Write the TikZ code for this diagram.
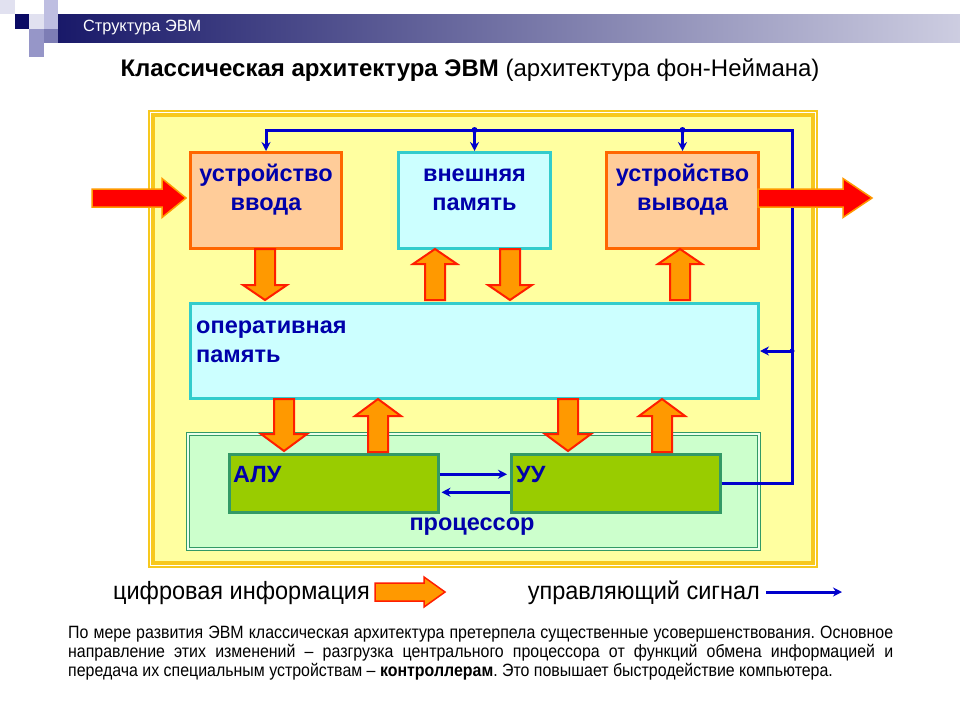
\documentclass[tikz,border=0pt]{standalone}
\usepackage{fontspec}
\setmainfont{Liberation Sans}
\newfontfamily\narrowfont[FakeStretch=0.895]{Liberation Sans}
\newfontfamily\legfont[FakeStretch=0.94]{Liberation Sans}
\usetikzlibrary{arrows.meta,calc}
\definecolor{gold}{RGB}{247,200,30}
\definecolor{ylw}{RGB}{255,255,160}
\definecolor{peach}{RGB}{255,204,153}
\definecolor{orng}{RGB}{255,102,0}
\definecolor{cyanf}{RGB}{204,255,255}
\definecolor{teal2}{RGB}{51,204,204}
\definecolor{procf}{RGB}{204,255,204}
\definecolor{grn}{RGB}{51,153,102}
\definecolor{lime}{RGB}{153,204,0}
\definecolor{ctrlblue}{RGB}{0,0,204}
\definecolor{txtblue}{RGB}{0,0,170}
\definecolor{arrfill}{RGB}{255,153,0}
\definecolor{arrline}{RGB}{255,30,0}
\definecolor{navy}{RGB}{25,25,105}
\definecolor{lav}{RGB}{205,205,225}
\definecolor{sqA}{RGB}{225,225,240}
\definecolor{sqB}{RGB}{10,10,100}
\definecolor{sqC}{RGB}{190,190,225}
\definecolor{sqD}{RGB}{150,150,200}
% vertical block arrow: x, y-from, y-to, head length, head half-width
\newcommand{\vfat}[5]{%
  \pgfmathsetmacro{\hy}{#3-#4*sign(#3-#2)}%
  \draw[fat] ({#1-10},#2) -- ({#1+10},#2) -- ({#1+10},\hy) -- ({#1+#5},\hy) -- (#1,#3) -- ({#1-#5},\hy) -- ({#1-10},\hy) -- cycle;}
% horizontal block arrow: style, y, x-from, x-to, shaft half, head half, head length
\newcommand{\hfat}[7]{%
  \draw[#1] (#3,{#2-#5}) -- ({#4-#7},{#2-#5}) -- ({#4-#7},{#2-#6}) -- (#4,#2) -- ({#4-#7},{#2+#6}) -- ({#4-#7},{#2+#5}) -- (#3,{#2+#5}) -- cycle;}
\tikzset{
  fat/.style={fill=arrfill, draw=arrline, line width=2, line join=miter},
  bigred/.style={fill=red, draw=arrfill, line width=1.5, line join=miter},
  legfat/.style={fill=arrfill, draw=arrline, line width=1.5, line join=miter},
  peachbox/.style={rectangle, fill=peach, draw=orng, line width=3, inner sep=0, anchor=north west},
  cyanbox/.style={rectangle, fill=cyanf, draw=teal2, line width=3, inner sep=0, anchor=north west},
  limebox/.style={rectangle, fill=lime, draw=grn, line width=2.5, inner sep=0, anchor=north west},
  boxtext/.style={text=txtblue, font=\fontsize{23.5}{29}\selectfont\bfseries, align=center, inner sep=0},
  legtext/.style={anchor=east, font=\legfont\fontsize{25}{29}\selectfont, inner sep=0},
  ctrl/.style={draw=ctrlblue, line width=3},
  ctrlarr/.style={ctrl, -{Stealth[length=9,width=9]}},
  dot/.style={circle, fill=ctrlblue, inner sep=0, minimum size=6},
}
\begin{document}
\frenchspacing
\begin{tikzpicture}[x=1pt,y=-1pt]
\useasboundingbox (0,0) rectangle (960,720);
\fill[white] (0,0) rectangle (960,720);
% header
\shade[left color=navy, right color=lav] (58,14) rectangle (960,42.5);
\fill[sqA] (0,0) rectangle (14.5,14);
\fill[sqC] (43.5,0) rectangle (58,14);
\fill[sqB] (14.5,14) rectangle (29,28.5);
\fill[sqA] (29,14) rectangle (43.5,28.5);
\fill[sqC] (43.5,14) rectangle (58,28.5);
\fill[sqD] (29,28.5) rectangle (43.5,42.5);
\fill[sqD!80!navy] (43.5,28.5) rectangle (58,42.5);
\fill[sqD] (29,42.5) rectangle (43.5,57);
\node[anchor=west, text=white, font=\fontsize{16.3}{19}\selectfont, inner sep=0] (hdr) at (83,28) {Структура ЭВМ};
% title
\node[font=\fontsize{24}{28}\selectfont, inner sep=0] (title) at (470,70.5) {\textbf{Классическая архитектура ЭВМ} (архитектура фон-Неймана)};
% yellow frame
\draw[gold, line width=1.5] (149,111) rectangle (817,567);
\draw[fill=ylw, draw=gold, line width=4] (153,115) rectangle (813,563);
% boxes
\node[peachbox, minimum width=151, minimum height=96] (vvod) at (189,151) {};
\node[cyanbox, minimum width=152, minimum height=96] (vnesh) at (397,151) {};
\node[peachbox, minimum width=152, minimum height=96] (vyvod) at (605,151) {};
\node[cyanbox, minimum width=568, minimum height=95] (op) at (189,302) {};
\draw[fill=procf, draw=grn, line width=1.6, double=white!60!procf, double distance=1.6] (188,434) rectangle (759,549);
\node[limebox, minimum width=209, minimum height=58] (alu) at (228,453) {};
\node[limebox, minimum width=209, minimum height=58] (uu) at (510,453) {};
% texts
\node[boxtext] (vvodt) at (vvod.center |- 0,190) {устройство\\ввода};
\node[boxtext] (vnesht) at (vnesh.center |- 0,190) {внешняя\\память};
\node[boxtext] (vyvodt) at (vyvod.center |- 0,190) {устройство\\вывода};
\node[boxtext, align=left, anchor=west] (opt) at (196,341.5) {оперативная\\память};
\node[boxtext, anchor=west] (alut) at (233,475) {АЛУ};
\node[boxtext, anchor=west] (uut) at (516,475) {УУ};
\node[boxtext] (proct) at (472,527) {процессор};
% control lines
\coordinate (bus) at (792,130);
\draw[ctrl, line join=miter] (uu.east) -- (uu.east -| bus) -- (bus) -- (bus -| vvod.north) -- ++(0,3);
\draw[ctrlarr] (bus -| vvod.north) -- (vvod.north);
\draw[ctrlarr] (bus -| vnesh.north) -- (vnesh.north);
\draw[ctrlarr] (bus -| vyvod.north) -- (vyvod.north);
\draw[ctrlarr] (op.east -| bus) -- (op.east);
\node[dot] (d1) at (bus -| vnesh.north) {};
\node[dot] (d2) at (bus -| vyvod.north) {};
\node[dot, minimum size=5] (d3) at (op.east -| bus) {};
\draw[ctrlarr] ([yshift=9]alu.east) -- ([yshift=9,xshift=-3]uu.west);
\draw[ctrlarr] ([yshift=-9]uu.west) -- ([yshift=-9,xshift=2]alu.east);
% data block arrows
\vfat{265}{249}{300}{15}{22}
\vfat{435}{300}{249}{15}{22}
\vfat{510}{249}{300}{15}{22}
\vfat{680}{300}{249}{15}{22}
\vfat{284}{399}{451}{17}{23}
\vfat{378}{452}{399}{17}{23}
\vfat{568}{399}{451}{17}{23}
\vfat{662}{452}{399}{17}{23}
% input/output arrows
\hfat{bigred}{198}{92}{186}{9}{19.5}{24}
\hfat{bigred}{198}{758}{872}{9}{19.5}{29}
% legend
\node[legtext] (leg1) at (370,593) {цифровая информация};
\hfat{legfat}{592}{375}{445}{9}{15}{21}
\node[legtext] (leg2) at (760,593) {управляющий сигнал};
\coordinate (lb1) at (766,592);
\coordinate (lb2) at (842,592);
\draw[ctrlarr] (lb1) -- (lb2);
% paragraph
\node[anchor=north west, text width=825, align=justify, inner sep=0, font=\narrowfont\fontsize{17.8}{19}\selectfont] (para) at (68,626) {По мере развития ЭВМ классическая архитектура претерпела существенные усовершенствования. Основное\linebreak направление этих изменений – разгрузка центрального процессора от функций обмена информацией и\linebreak передача их специальным устройствам – \textbf{контроллерам}. Это повышает быстродействие компьютера.};
\end{tikzpicture}
\end{document}
